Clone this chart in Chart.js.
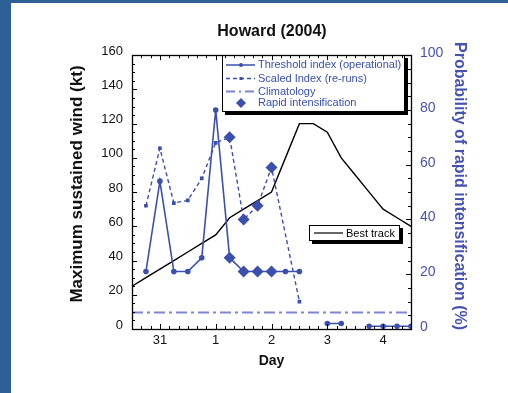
<!DOCTYPE html>
<html><head><meta charset="utf-8">
<script src="https://cdn.jsdelivr.net/npm/chart.js@4.4.0/dist/chart.umd.min.js"></script>
<style>
html,body{margin:0;padding:0;background:#fff;width:508px;height:393px;overflow:hidden}
#wrap{position:relative;width:508px;height:393px}
.stripeL{position:absolute;left:0;top:0;width:11px;height:393px;background:#2f5f97}
.stripeT{position:absolute;left:0;top:0;width:508px;height:3px;background:#2f5f97}
canvas{position:absolute;left:0;top:0}
</style></head><body>
<div id="wrap"><div class="stripeL"></div><div class="stripeT"></div><canvas id="c" width="508" height="393"></canvas></div>
<script>
// ---- data ----
const dayTicks = [0, 1, 2, 3, 4];
const dayLabels = ['31', '1', '2', '3', '4'];
const forecastDays = [-0.25, 0, 0.25, 0.5, 0.75, 1, 1.25, 1.5, 1.75, 2, 2.25, 2.5, 2.75, 3, 3.25, 3.5, 3.75, 4, 4.25, 4.5];
const thresholdIndex = [21, 54, 21, 21, 26, 80, 26, 21, 21, 21, 21, 21, null, 2, 2, null, 1, 1, 1, 1];
const scaledIndex = [45, 66, 46, 47, 55, 68, 70, 40, 45, 59, null, 10, null, null, null, null, null, null, null, null];
const riDays = [1.25, 1.5, 1.75, 2, 1.25, 1.5, 1.75, 2];
const riValues = [26, 21, 21, 21, 70, 40, 45, 59];
const trackDays = [-0.5, -0.25, 0, 0.25, 0.5, 0.75, 1, 1.25, 1.5, 1.75, 2, 2.25, 2.5, 2.75, 3, 3.25, 3.5, 3.75, 4, 4.25, 4.5];
const bestTrack = [25, 30, 35, 40, 45, 50, 55, 65, 70, 75, 80, 100, 120, 120, 115, 100, 90, 80, 70, 65, 60];
const climDays = [-0.5, 4.5];
const climValues = [6, 6];

const BLUE = '#3a4fae';
const CLIM = '#7f86d6';
const AXBLUE = '#4652b0';
const FONT = '"Liberation Sans", Arial, Helvetica, sans-serif';
Chart.defaults.font.family = FONT;

const pts = (xs, ys) => xs.map((x, i) => ({x, y: ys[i]}));

const frameTicks = {
  id: 'frameTicks',
  afterDraw(chart) {
    const {ctx, chartArea: a, scales} = chart;
    const x = scales.x, y = scales.y, y1 = scales.y1;
    ctx.save();
    ctx.strokeStyle = '#000';
    ctx.lineWidth = 1;
    ctx.beginPath();
    for (let k = -3; k <= 27; k++) {
      const px = Math.round(x.getPixelForValue(k / 6)) + 0.5;
      const len = k % 6 === 0 ? 5 : 3;
      ctx.moveTo(px, a.bottom); ctx.lineTo(px, a.bottom - len);
      ctx.moveTo(px, a.top); ctx.lineTo(px, a.top + len);
    }
    for (let v = 0; v <= 160; v += 5) {
      const py = Math.round(y.getPixelForValue(v)) + 0.5;
      const len = v % 20 === 0 ? 5 : 3;
      ctx.moveTo(a.left, py); ctx.lineTo(a.left + len, py);
    }
    for (let v = 0; v <= 100; v += 5) {
      const py = Math.round(y1.getPixelForValue(v)) + 0.5;
      const len = v % 20 === 0 ? 5 : 3;
      ctx.moveTo(a.right, py); ctx.lineTo(a.right - len, py);
    }
    ctx.stroke();
    ctx.lineWidth = 1.3;
    ctx.strokeRect(Math.round(a.left) + 0.5, Math.round(a.top) + 0.5, Math.round(a.right - a.left), Math.round(a.bottom - a.top));
    ctx.restore();
  }
};

const axisTitles = {
  id: 'axisTitles',
  afterDraw(chart) {
    const {ctx} = chart;
    ctx.save();
    ctx.textAlign = 'center';
    ctx.textBaseline = 'middle';
    ctx.font = 'bold 17px ' + FONT;
    ctx.fillStyle = '#111';
    ctx.translate(77, 184);
    ctx.rotate(-Math.PI / 2);
    ctx.fillText('Maximum sustained wind (kt)', 0, 0);
    ctx.restore();
    ctx.save();
    ctx.textAlign = 'center';
    ctx.textBaseline = 'middle';
    ctx.font = 'bold 16px ' + FONT;
    ctx.fillStyle = AXBLUE;
    ctx.translate(459, 186);
    ctx.rotate(Math.PI / 2);
    ctx.fillText('Probability of rapid intensification (%)', 0, 0);
    ctx.restore();
  }
};

const legendBoxes = {
  id: 'legendBoxes',
  afterDatasetsDraw(chart) {
    const {ctx} = chart;
    ctx.save();
    const box = (l, t, r, b) => {
      ctx.fillStyle = '#000';
      ctx.fillRect(l + 3, t + 3, r - l, b - t);
      ctx.fillStyle = '#fff';
      ctx.fillRect(l, t, r - l, b - t);
      ctx.strokeStyle = '#000';
      ctx.lineWidth = 1;
      ctx.strokeRect(l + 0.5, t + 0.5, r - l - 1, b - t - 1);
    };
    box(222, 55, 405, 112);
    ctx.font = '11px ' + FONT;
    ctx.textBaseline = 'middle';
    ctx.textAlign = 'left';
    const rows = [
      {y: 65, text: 'Threshold index (operational)', dash: [], color: BLUE, mark: 'dot'},
      {y: 78.5, text: 'Scaled Index (re-runs)', dash: [4, 3], color: BLUE, mark: 'sq'},
      {y: 91.5, text: 'Climatology', dash: [9, 4, 2, 4], color: CLIM, mark: null},
      {y: 103, text: 'Rapid intensification', dash: null, color: BLUE, mark: 'diamond'}
    ];
    rows.forEach(r => {
      if (r.dash) {
        ctx.strokeStyle = r.color;
        ctx.lineWidth = r.mark ? 1.5 : 2;
        ctx.setLineDash(r.dash);
        ctx.beginPath(); ctx.moveTo(226, r.y); ctx.lineTo(255, r.y); ctx.stroke();
        ctx.setLineDash([]);
      }
      ctx.fillStyle = BLUE;
      if (r.mark === 'dot') { ctx.beginPath(); ctx.arc(241, r.y, 2, 0, Math.PI * 2); ctx.fill(); }
      if (r.mark === 'sq') { ctx.fillRect(239.5, r.y - 1.5, 3, 3); }
      if (r.mark === 'diamond') {
        ctx.beginPath(); ctx.moveTo(241, r.y - 5); ctx.lineTo(246, r.y); ctx.lineTo(241, r.y + 5); ctx.lineTo(236, r.y); ctx.closePath(); ctx.fill();
      }
      ctx.fillStyle = BLUE;
      ctx.fillText(r.text, 258, r.y);
    });
    box(309, 225, 400, 241);
    ctx.strokeStyle = '#000';
    ctx.lineWidth = 1.2;
    ctx.beginPath(); ctx.moveTo(314, 233); ctx.lineTo(343, 233); ctx.stroke();
    ctx.fillStyle = '#000';
    ctx.fillText('Best track', 346, 233.5);
    ctx.restore();
  }
};

new Chart(document.getElementById('c'), {
  type: 'line',
  data: {
    datasets: [
      {label: 'Rapid intensification', data: pts(riDays, riValues), yAxisID: 'y1', showLine: false,
       pointStyle: 'rectRot', pointRadius: 6, backgroundColor: BLUE, borderColor: BLUE, borderWidth: 0},
      {label: 'Threshold index (operational)', data: pts(forecastDays, thresholdIndex), yAxisID: 'y1',
       borderColor: BLUE, backgroundColor: BLUE, borderWidth: 1.6, pointRadius: 2, pointStyle: 'circle', spanGaps: false},
      {label: 'Scaled Index (re-runs)', data: pts(forecastDays, scaledIndex), yAxisID: 'y1',
       borderColor: BLUE, backgroundColor: BLUE, borderWidth: 1.4, borderDash: [4, 3], pointRadius: 1.6, pointStyle: 'rect', spanGaps: true},
      {label: 'Climatology', data: pts(climDays, climValues), yAxisID: 'y1',
       borderColor: CLIM, borderWidth: 2, borderDash: [11, 4, 3, 4], pointRadius: 0},
      {label: 'Best track', data: pts(trackDays, bestTrack), yAxisID: 'y',
       borderColor: '#000', borderWidth: 1.4, pointRadius: 0}
    ]
  },
  options: {
    responsive: false,
    animation: false,
    events: [],
    layout: {padding: {left: 36, right: 0, top: 0, bottom: 0}},
    plugins: {
      legend: {display: false},
      tooltip: {enabled: false},
      title: {display: true, text: 'Howard (2004)', color: '#111', font: {size: 16, weight: 'bold'}, padding: {top: 22, bottom: 14}}
    },
    scales: {
      x: {
        type: 'linear', min: -0.5, max: 4.5,
        afterBuildTicks: s => { s.ticks = dayTicks.map(v => ({value: v})); },
        ticks: {callback: (v) => dayLabels[dayTicks.indexOf(v)], color: '#111', font: {size: 13}, padding: 4, maxRotation: 0},
        grid: {display: true, drawOnChartArea: false, drawTicks: false},
        border: {display: false},
        title: {display: true, text: 'Day', color: '#111', font: {size: 14, weight: 'bold'}, padding: {top: 0, bottom: 23}},
        afterFit: s => { s.height = 64; }
      },
      y: {
        position: 'left', min: 0, max: 160,
        ticks: {stepSize: 20, color: '#111', font: {size: 13}, padding: 9, labelOffset: -4},
        grid: {display: true, drawOnChartArea: false, drawTicks: false},
        border: {display: false},
        title: {display: false},
        afterFit: s => { s.width = 96; }
      },
      y1: {
        position: 'right', min: 0, max: 100,
        ticks: {stepSize: 20, color: AXBLUE, font: {size: 14}, padding: 9, labelOffset: -2},
        grid: {display: true, drawOnChartArea: false, drawTicks: false},
        border: {display: false},
        title: {display: false},
        afterFit: s => { s.width = 97; }
      }
    }
  },
  plugins: [frameTicks, legendBoxes, axisTitles]
});
</script>
</body></html>
